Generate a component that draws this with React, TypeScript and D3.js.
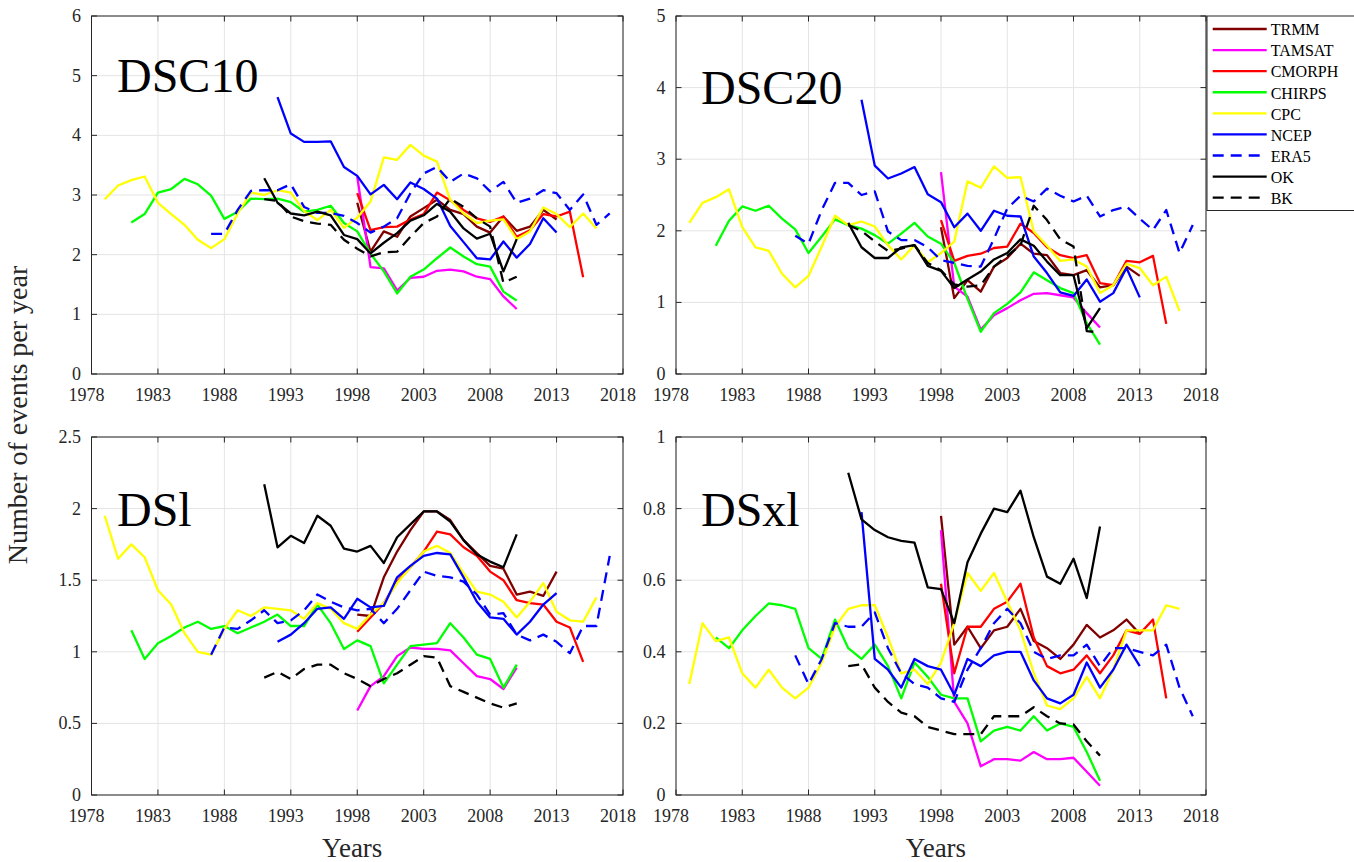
import React from "react";
import * as d3 from "d3";

// ---- data sources (draw order = legend order) ----
const SOURCES = ["TRMM", "TAMSAT", "CMORPH", "CHIRPS", "CPC", "NCEP", "ERA5", "OK", "BK"];
const COLORS = ["#800000", "#ff00ff", "#ff0000", "#00ff00", "#ffff00", "#0000ff", "#0000ff", "#000000", "#000000"];
const DASHED = [false, false, false, false, false, false, true, false, true];
const START_YEARS = [1998, 1998, 1998, 1981, 1979, 1992, 1987, 1991, 1991];

const X_TICKS = [1978, 1983, 1988, 1993, 1998, 2003, 2008, 2013, 2018];

// ---- DSC10 ----
const dsc10Trmm = [2.87, 2.05, 2.39, 2.30, 2.64, 2.78, 2.92, 2.75, 2.68, 2.47, 2.37, 2.64, 2.40, 2.47, 2.75, 2.59];
const dsc10Tamsat = [3.31, 1.79, 1.77, 1.40, 1.61, 1.63, 1.73, 1.75, 1.72, 1.63, 1.59, 1.30, 1.09];
const dsc10Cmorph = [3.03, 2.41, 2.46, 2.47, 2.59, 2.68, 3.04, 2.91, 2.75, 2.61, 2.55, 2.64, 2.30, 2.41, 2.68, 2.64, 2.72, 1.62];
const dsc10Chirps = [2.54, 2.68, 3.04, 3.10, 3.27, 3.18, 2.99, 2.60, 2.72, 2.94, 2.93, 2.94, 2.88, 2.72, 2.75, 2.82, 2.53, 2.39, 2.02, 1.72, 1.35, 1.63, 1.75, 1.94, 2.12, 1.97, 1.84, 1.80, 1.38, 1.23];
const dsc10Cpc = [2.93, 3.16, 3.25, 3.31, 2.87, 2.68, 2.50, 2.25, 2.11, 2.26, 2.69, 3.04, 3.00, 3.08, 3.04, 2.73, 2.58, 2.75, 2.45, 2.62, 2.89, 3.63, 3.59, 3.84, 3.66, 3.56, 2.92, 2.69, 2.53, 2.57, 2.59, 2.26, 2.39, 2.79, 2.68, 2.46, 2.69, 2.44];
const dsc10Ncep = [4.64, 4.03, 3.89, 3.89, 3.90, 3.47, 3.32, 3.01, 3.17, 2.93, 3.21, 3.10, 2.94, 2.48, 2.21, 1.94, 1.92, 2.22, 1.95, 2.18, 2.61, 2.37];
const dsc10Era5 = [2.35, 2.35, 2.75, 3.07, 3.08, 3.08, 3.18, 2.80, 2.70, 2.70, 2.65, 2.53, 2.37, 2.47, 2.61, 3.03, 3.36, 3.47, 3.22, 3.36, 3.28, 3.06, 3.22, 2.87, 2.94, 3.08, 3.03, 2.75, 3.01, 2.50, 2.69];
const dsc10Ok = [3.28, 2.87, 2.69, 2.66, 2.72, 2.66, 2.33, 2.26, 2.02, 2.20, 2.36, 2.57, 2.66, 2.85, 2.72, 2.44, 2.27, 2.35, 1.72, 2.26];
const dsc10Bk = [2.93, 2.90, 2.64, 2.56, 2.52, 2.50, 2.25, 2.10, 1.97, 2.04, 2.05, 2.30, 2.53, 2.64, 2.94, 2.80, 2.61, 2.47, 1.53, 1.63];

// ---- DSC20 ----
const dsc20Trmm = [2.05, 1.06, 1.31, 1.15, 1.50, 1.62, 1.82, 1.68, 1.66, 1.41, 1.38, 1.45, 1.21, 1.24, 1.50, 1.37];
const dsc20Tamsat = [2.82, 1.22, 1.08, 0.62, 0.82, 0.92, 1.03, 1.12, 1.13, 1.10, 1.07, 0.85, 0.65];
const dsc20Cmorph = [2.15, 1.58, 1.65, 1.68, 1.76, 1.78, 2.10, 1.97, 1.77, 1.66, 1.62, 1.66, 1.27, 1.24, 1.58, 1.56, 1.65, 0.70];
const dsc20Chirps = [1.79, 2.14, 2.34, 2.28, 2.35, 2.17, 2.02, 1.69, 1.92, 2.16, 2.08, 2.03, 1.94, 1.82, 1.96, 2.11, 1.92, 1.82, 1.55, 1.05, 0.59, 0.85, 0.98, 1.14, 1.42, 1.31, 1.20, 1.13, 0.71, 0.41];
const dsc20Cpc = [2.11, 2.39, 2.47, 2.58, 2.05, 1.77, 1.72, 1.40, 1.21, 1.37, 1.78, 2.21, 2.08, 2.13, 2.06, 1.80, 1.60, 1.80, 1.56, 1.69, 1.85, 2.69, 2.60, 2.90, 2.74, 2.75, 1.99, 1.79, 1.58, 1.60, 1.50, 1.13, 1.24, 1.54, 1.48, 1.24, 1.36, 0.88];
const dsc20Ncep = [3.83, 2.91, 2.73, 2.80, 2.89, 2.51, 2.40, 2.05, 2.24, 2.00, 2.28, 2.21, 2.20, 1.64, 1.41, 1.14, 1.09, 1.32, 1.01, 1.13, 1.48, 1.07];
const dsc20Era5 = [1.93, 1.82, 2.29, 2.67, 2.67, 2.50, 2.55, 1.99, 1.87, 1.87, 1.77, 1.59, 1.55, 1.51, 1.50, 1.89, 2.31, 2.49, 2.41, 2.59, 2.49, 2.41, 2.49, 2.20, 2.29, 2.34, 2.17, 2.01, 2.29, 1.69, 2.08];
const dsc20Ok = [2.11, 1.77, 1.62, 1.62, 1.77, 1.80, 1.51, 1.44, 1.20, 1.32, 1.43, 1.60, 1.69, 1.88, 1.79, 1.57, 1.38, 1.38, 0.64, 0.92];
const dsc20Bk = [2.08, 2.00, 1.85, 1.72, 1.75, 1.80, 1.55, 1.45, 1.25, 1.22, 1.24, 1.50, 1.65, 1.80, 2.35, 2.15, 1.88, 1.78, 0.60, 0.58];

// ---- DSl ----
const dslTrmm = [1.26, 1.25, 1.52, 1.70, 1.85, 1.98, 1.98, 1.92, 1.78, 1.69, 1.60, 1.58, 1.40, 1.42, 1.39, 1.56];
const dslTamsat = [0.59, 0.76, 0.83, 0.97, 1.03, 1.02, 1.02, 1.01, 0.92, 0.83, 0.81, 0.74, 0.89];
const dslCmorph = [1.14, 1.24, 1.34, 1.49, 1.59, 1.70, 1.84, 1.82, 1.73, 1.67, 1.56, 1.50, 1.36, 1.34, 1.33, 1.21, 1.17, 0.93];
const dslChirps = [1.15, 0.95, 1.06, 1.11, 1.17, 1.21, 1.16, 1.18, 1.13, 1.17, 1.21, 1.26, 1.18, 1.18, 1.33, 1.20, 1.02, 1.08, 1.04, 0.78, 0.91, 1.04, 1.05, 1.06, 1.20, 1.10, 0.98, 0.95, 0.75, 0.91];
const dslCpc = [1.95, 1.65, 1.75, 1.66, 1.43, 1.33, 1.13, 1.00, 0.98, 1.16, 1.29, 1.25, 1.31, 1.30, 1.29, 1.23, 1.34, 1.30, 1.20, 1.16, 1.26, 1.34, 1.48, 1.59, 1.70, 1.74, 1.69, 1.55, 1.42, 1.40, 1.35, 1.24, 1.35, 1.48, 1.28, 1.22, 1.21, 1.38];
const dslNcep = [1.07, 1.12, 1.20, 1.30, 1.31, 1.23, 1.37, 1.31, 1.32, 1.52, 1.60, 1.67, 1.69, 1.68, 1.52, 1.35, 1.24, 1.23, 1.12, 1.21, 1.33, 1.41];
const dslEra5 = [0.98, 1.17, 1.16, 1.22, 1.29, 1.20, 1.22, 1.29, 1.40, 1.35, 1.31, 1.29, 1.30, 1.20, 1.30, 1.43, 1.56, 1.53, 1.52, 1.49, 1.40, 1.26, 1.27, 1.12, 1.08, 1.12, 1.07, 0.99, 1.18, 1.18, 1.67];
const dslOk = [2.17, 1.73, 1.81, 1.76, 1.95, 1.88, 1.72, 1.70, 1.74, 1.62, 1.80, 1.89, 1.98, 1.98, 1.91, 1.78, 1.68, 1.63, 1.59, 1.82];
const dslBk = [0.82, 0.86, 0.81, 0.88, 0.91, 0.91, 0.85, 0.81, 0.76, 0.81, 0.85, 0.91, 0.97, 0.96, 0.76, 0.72, 0.68, 0.64, 0.61, 0.64];

// ---- DSxl ----
const dsxlTrmm = [0.78, 0.42, 0.47, 0.41, 0.46, 0.47, 0.52, 0.43, 0.41, 0.38, 0.42, 0.475, 0.44, 0.46, 0.49, 0.45];
const dsxlTamsat = [0.74, 0.26, 0.20, 0.08, 0.10, 0.10, 0.096, 0.12, 0.10, 0.10, 0.104, 0.065, 0.026];
const dsxlCmorph = [0.59, 0.34, 0.47, 0.47, 0.52, 0.54, 0.59, 0.44, 0.36, 0.34, 0.35, 0.39, 0.34, 0.39, 0.46, 0.45, 0.49, 0.27];
const dsxlChirps = [0.44, 0.41, 0.46, 0.50, 0.535, 0.53, 0.52, 0.41, 0.38, 0.49, 0.41, 0.38, 0.42, 0.36, 0.27, 0.37, 0.33, 0.28, 0.27, 0.27, 0.15, 0.18, 0.19, 0.18, 0.22, 0.18, 0.20, 0.19, 0.12, 0.04];
const dsxlCpc = [0.31, 0.48, 0.43, 0.44, 0.34, 0.30, 0.35, 0.30, 0.27, 0.30, 0.37, 0.47, 0.52, 0.53, 0.53, 0.44, 0.34, 0.35, 0.31, 0.37, 0.48, 0.62, 0.57, 0.62, 0.54, 0.46, 0.34, 0.25, 0.24, 0.27, 0.33, 0.27, 0.35, 0.46, 0.46, 0.46, 0.53, 0.52];
const dsxlNcep = [0.79, 0.38, 0.35, 0.30, 0.38, 0.36, 0.35, 0.28, 0.38, 0.36, 0.39, 0.40, 0.40, 0.32, 0.27, 0.256, 0.28, 0.37, 0.30, 0.35, 0.42, 0.36];
const dsxlEra5 = [0.39, 0.31, 0.38, 0.48, 0.47, 0.47, 0.51, 0.41, 0.34, 0.31, 0.30, 0.27, 0.26, 0.35, 0.41, 0.48, 0.52, 0.48, 0.40, 0.38, 0.39, 0.39, 0.42, 0.36, 0.41, 0.41, 0.40, 0.39, 0.42, 0.30, 0.22];
const dsxlOk = [0.90, 0.77, 0.74, 0.72, 0.71, 0.705, 0.58, 0.575, 0.48, 0.65, 0.73, 0.80, 0.79, 0.85, 0.72, 0.61, 0.59, 0.66, 0.55, 0.75];
const dsxlBk = [0.36, 0.365, 0.30, 0.26, 0.23, 0.22, 0.19, 0.18, 0.17, 0.17, 0.17, 0.22, 0.22, 0.22, 0.245, 0.22, 0.20, 0.197, 0.15, 0.11];

// ---- per-panel settings ----
const PANEL_NAMES = ["DSC10", "DSC20", "DSl", "DSxl"];
const PANEL_SERIES = [
  [dsc10Trmm, dsc10Tamsat, dsc10Cmorph, dsc10Chirps, dsc10Cpc, dsc10Ncep, dsc10Era5, dsc10Ok, dsc10Bk],
  [dsc20Trmm, dsc20Tamsat, dsc20Cmorph, dsc20Chirps, dsc20Cpc, dsc20Ncep, dsc20Era5, dsc20Ok, dsc20Bk],
  [dslTrmm, dslTamsat, dslCmorph, dslChirps, dslCpc, dslNcep, dslEra5, dslOk, dslBk],
  [dsxlTrmm, dsxlTamsat, dsxlCmorph, dsxlChirps, dsxlCpc, dsxlNcep, dsxlEra5, dsxlOk, dsxlBk],
];
const Y_TICKS = [
  [0, 1, 2, 3, 4, 5, 6],
  [0, 1, 2, 3, 4, 5],
  [0, 0.5, 1, 1.5, 2, 2.5],
  [0, 0.2, 0.4, 0.6, 0.8, 1],
];

// ---- layout ----
const FONT = "'Liberation Serif', 'Times New Roman', Times, serif";
const BOXES = [
  { x0: 91.5, x1: 623, y0: 16, y1: 374 },
  { x0: 676, x1: 1206, y0: 16, y1: 374 },
  { x0: 91.5, x1: 623, y0: 437, y1: 795 },
  { x0: 676, x1: 1206, y0: 437, y1: 795 },
];
const TITLE_POS = [
  { x: 117, y: 92 },
  { x: 701, y: 104 },
  { x: 117, y: 526 },
  { x: 701, y: 526 },
];
const AXIS_COLOR = "#262626";
const GRID_COLOR = "#e4e4e4";
const LINE_W = 2.3;
const DASH = "11,7";
const TICK_LEN = 5.5;

function Panel({ idx }: { idx: number }) {
  const box = BOXES[idx];
  const yTicks = Y_TICKS[idx];
  const x = d3.scaleLinear().domain([1978, 2018]).range([box.x0, box.x1]);
  const y = d3
    .scaleLinear()
    .domain([0, yTicks[yTicks.length - 1]])
    .range([box.y1, box.y0]);
  const line = d3
    .line<[number, number]>()
    .x((d) => x(d[0]))
    .y((d) => y(d[1]));
  const isBottom = idx >= 2;

  return (
    <g>
      {/* grid */}
      {X_TICKS.map((t) => (
        <line key={"gx" + t} x1={x(t)} x2={x(t)} y1={box.y0} y2={box.y1} stroke={GRID_COLOR} strokeWidth={1} />
      ))}
      {yTicks.map((t) => (
        <line key={"gy" + t} x1={box.x0} x2={box.x1} y1={y(t)} y2={y(t)} stroke={GRID_COLOR} strokeWidth={1} />
      ))}

      {/* series */}
      {PANEL_SERIES[idx].map((vals, si) => {
        const pts: [number, number][] = vals.map((v, i) => [START_YEARS[si] + i, v]);
        return (
          <path
            key={SOURCES[si]}
            d={line(pts) || ""}
            fill="none"
            stroke={COLORS[si]}
            strokeWidth={LINE_W}
            strokeDasharray={DASHED[si] ? DASH : undefined}
            strokeLinejoin="round"
          />
        );
      })}

      {/* box + ticks */}
      <rect
        x={box.x0}
        y={box.y0}
        width={box.x1 - box.x0}
        height={box.y1 - box.y0}
        fill="none"
        stroke={AXIS_COLOR}
        strokeWidth={1}
      />
      {X_TICKS.map((t) => (
        <g key={"tx" + t}>
          <line x1={x(t)} x2={x(t)} y1={box.y1} y2={box.y1 - TICK_LEN} stroke={AXIS_COLOR} />
          <line x1={x(t)} x2={x(t)} y1={box.y0} y2={box.y0 + TICK_LEN} stroke={AXIS_COLOR} />
          <text
            x={x(t) - 5}
            y={box.y1 + 26.5}
            textAnchor="middle"
            fontFamily={FONT}
            fontSize={18}
            fill="#262626"
          >
            {t}
          </text>
        </g>
      ))}
      {yTicks.map((t) => (
        <g key={"ty" + t}>
          <line x1={box.x0} x2={box.x0 + TICK_LEN} y1={y(t)} y2={y(t)} stroke={AXIS_COLOR} />
          <line x1={box.x1} x2={box.x1 - TICK_LEN} y1={y(t)} y2={y(t)} stroke={AXIS_COLOR} />
          <text
            x={box.x0 - 10.5}
            y={y(t) + 6}
            textAnchor="end"
            fontFamily={FONT}
            fontSize={18}
            fill="#262626"
          >
            {String(t)}
          </text>
        </g>
      ))}

      {/* panel title */}
      <text x={TITLE_POS[idx].x} y={TITLE_POS[idx].y} fontFamily={FONT} fontSize={48} fill="#000">
        {PANEL_NAMES[idx]}
      </text>

      {isBottom && (
        <text
          x={(box.x0 + box.x1) / 2 - 5}
          y={857}
          textAnchor="middle"
          fontFamily={FONT}
          fontSize={27}
          fill="#262626"
        >
          Years
        </text>
      )}
    </g>
  );
}

function Legend() {
  const left = 1207;
  const top = 16;
  const rowH = 21.08;
  const firstRow = 29;
  return (
    <g>
      <rect x={left} y={top} width={170} height={194.5} fill="#fff" stroke={AXIS_COLOR} strokeWidth={1} />
      {SOURCES.map((name, i) => {
        const cy = firstRow + i * rowH;
        return (
          <g key={name}>
            <line
              x1={1212.7}
              x2={1266.7}
              y1={cy}
              y2={cy}
              stroke={COLORS[i]}
              strokeWidth={LINE_W}
              strokeDasharray={DASHED[i] ? DASH : undefined}
            />
            <text x={1270.7} y={cy + 6.3} fontFamily={FONT} fontSize={16} fill="#000">
              {name}
            </text>
          </g>
        );
      })}
    </g>
  );
}

export default function App() {
  return (
    <svg
      width={1354}
      height={862}
      style={{ position: "absolute", left: 0, top: 0, background: "#fff" }}
    >
      {[0, 1, 2, 3].map((i) => (
        <Panel key={i} idx={i} />
      ))}
      <Legend />
      <text
        transform="translate(27,415) rotate(-90)"
        textAnchor="middle"
        fontFamily={FONT}
        fontSize={28}
        fill="#262626"
      >
        Number of events per year
      </text>
    </svg>
  );
}
